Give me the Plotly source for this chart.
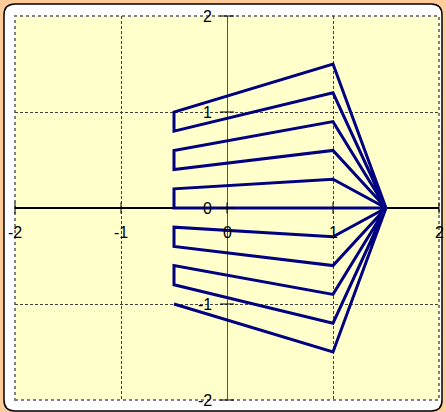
import plotly.graph_objects as go

# ---- data (polyline vertices) ----
path_x = [1.5, 1, -0.5, -0.5, 1, 1.5, 1, -0.5, -0.5, 1, 1.5, 1, -0.5, -0.5, 1, 1.5,
          1, -0.5, -0.5, 1, 1.5, 1, -0.5, -0.5, 1, 1.5, 1, -0.5]
path_y = [0, 1.5, 1.0, 0.8, 1.2, 0, 0.9, 0.6, 0.4, 0.6, 0, 0.3, 0.2, 0.0, 0.0, 0,
          -0.3, -0.2, -0.4, -0.6, 0, -0.9, -0.6, -0.8, -1.2, 0, -1.5, -1.0]

x_ticks = [-2, -1, 0, 1, 2]
x_tick_labels = ["-2", "-1", "0", "1", "2"]
y_ticks = [-2, -1, 0, 1, 2]
y_tick_labels = ["-2", "-1", "0", "1", "2"]

# ---- layout geometry (pixels) ----
W, H = 446, 412
L, R, T, B = 15, 439, 16, 400


def px(x):
    return (x - L) / (R - L)


def py(y):
    return (B - y) / (B - T)


def rounded_path(x0, y0, x1, y1, r):
    pts = [
        f"M {px(x0 + r)},{py(y0)}",
        f"L {px(x1 - r)},{py(y0)}",
        f"Q {px(x1)},{py(y0)} {px(x1)},{py(y0 + r)}",
        f"L {px(x1)},{py(y1 - r)}",
        f"Q {px(x1)},{py(y1)} {px(x1 - r)},{py(y1)}",
        f"L {px(x0 + r)},{py(y1)}",
        f"Q {px(x0)},{py(y1)} {px(x0)},{py(y1 - r)}",
        f"L {px(x0)},{py(y0 + r)}",
        f"Q {px(x0)},{py(y0)} {px(x0 + r)},{py(y0)}",
        "Z",
    ]
    return " ".join(pts)


fig = go.Figure()

fig.add_trace(go.Scatter(
    x=path_x, y=path_y, mode="lines",
    line=dict(color="#000080", width=3),
    hoverinfo="skip", showlegend=False, cliponaxis=False,
))

# tick marks on the zero-crossing axes
fig.add_trace(go.Scatter(
    x=x_ticks, y=[0] * len(x_ticks), mode="markers",
    marker=dict(symbol="line-ns", size=8, line=dict(color="black", width=1)),
    hoverinfo="skip", showlegend=False, cliponaxis=False,
))
fig.add_trace(go.Scatter(
    x=[0] * len(y_ticks), y=y_ticks, mode="markers",
    marker=dict(symbol="line-ew", size=10, line=dict(color="black", width=1)),
    hoverinfo="skip", showlegend=False, cliponaxis=False,
))

shapes = [
    # white rounded frame
    dict(type="path", xref="paper", yref="paper", layer="below",
         path=rounded_path(4, 4, 442, 411, 11),
         fillcolor="white", line=dict(color="black", width=1.5)),
    # plot area
    dict(type="rect", xref="paper", yref="paper", layer="below",
         x0=0, y0=0, x1=1, y1=1, fillcolor="#FFFFCC",
         line=dict(color="#808080", width=2, dash="dot")),
]

FONT = dict(family="Liberation Sans, Arial", size=16, color="black")
annotations = []
for v, t in zip(x_ticks, x_tick_labels):
    annotations.append(dict(x=v, y=0, xref="x", yref="y", text=t, showarrow=False,
                            xanchor="center", yanchor="middle", yshift=-24, font=FONT))
for v, t in zip(y_ticks, y_tick_labels):
    annotations.append(dict(x=0, y=v, xref="x", yref="y", text=t, showarrow=False,
                            xanchor="right", yanchor="middle", xshift=-13, font=FONT))

fig.update_layout(
    width=W, height=H,
    margin=dict(l=L, r=W - R, t=T, b=H - B),
    paper_bgcolor="#FFCC99",
    plot_bgcolor="rgba(0,0,0,0)",
    shapes=shapes,
    annotations=annotations,
    xaxis=dict(range=[-2, 2], tickvals=x_ticks, showticklabels=False, ticks="",
               showgrid=True, gridcolor="#404040", griddash="3px,2px", gridwidth=1,
               zeroline=True, zerolinecolor="#555555", zerolinewidth=1,
               showline=False, fixedrange=True),
    yaxis=dict(range=[-2, 2], tickvals=y_ticks, showticklabels=False, ticks="",
               showgrid=True, gridcolor="#404040", griddash="3px,2px", gridwidth=1,
               zeroline=True, zerolinecolor="black", zerolinewidth=1.5,
               showline=False, fixedrange=True),
)

fig.write_html("out.html")
